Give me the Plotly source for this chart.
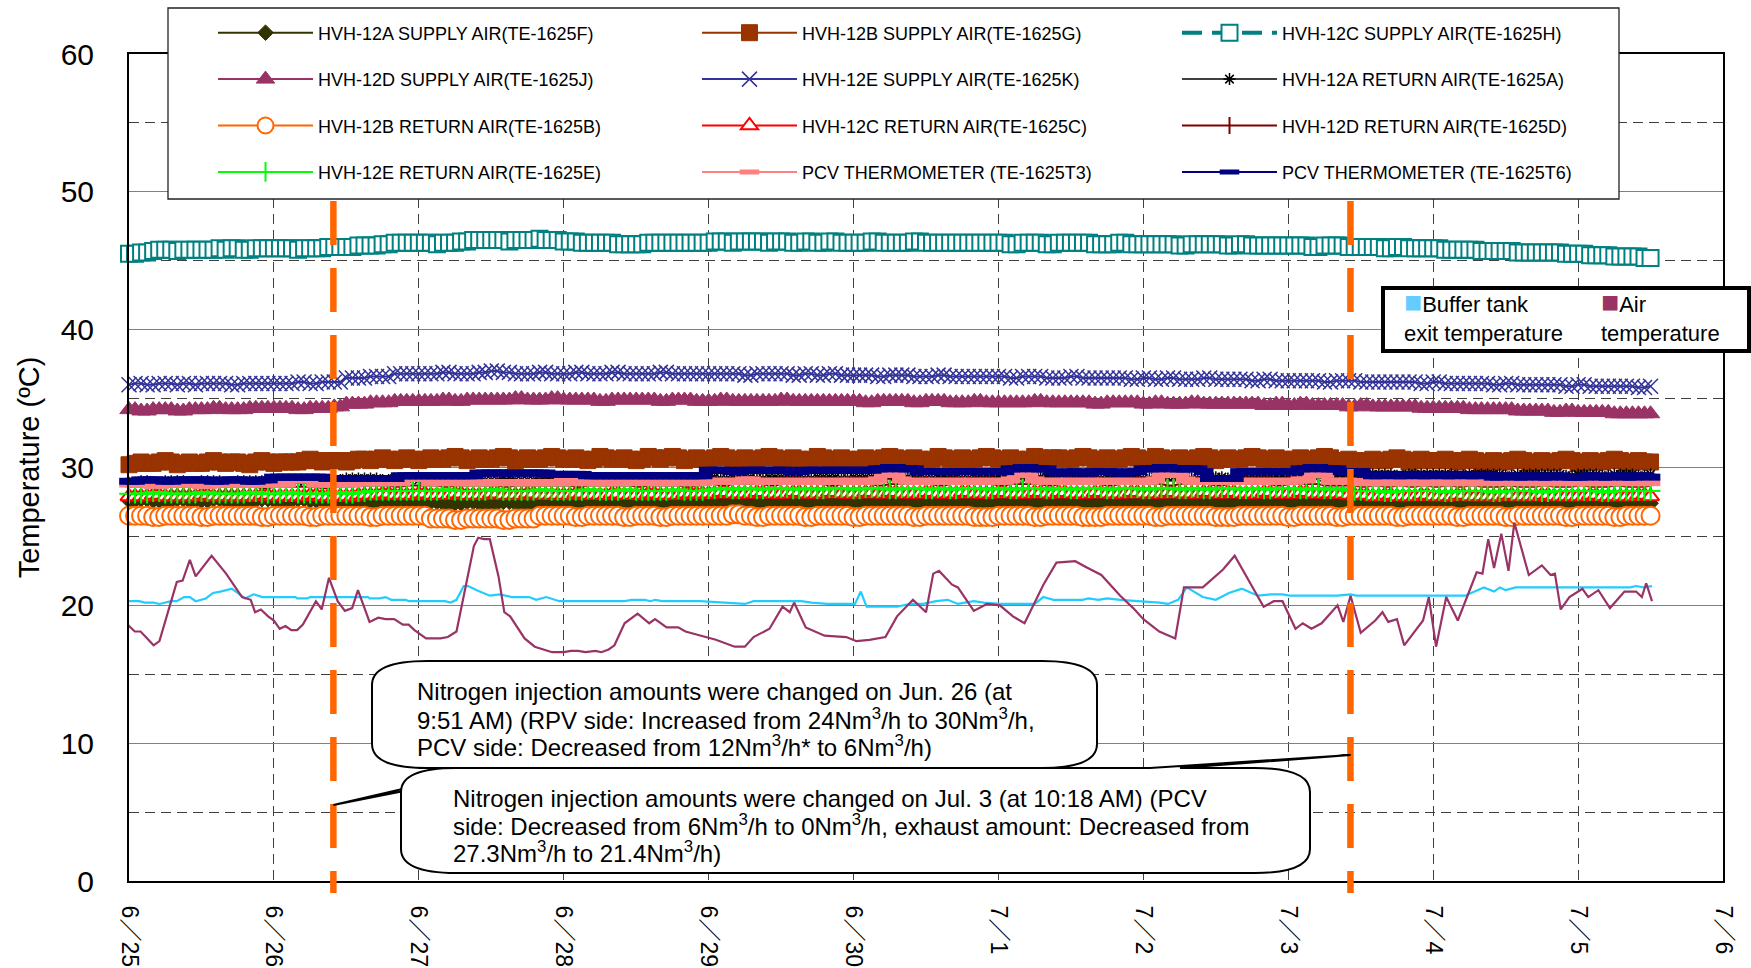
import plotly.graph_objects as go

# ---------------- data ----------------
tick_days = [0, 1, 2, 3, 4, 5, 6, 7, 8, 9, 10, 11]
tick_labels = ["6／25", "6／26", "6／27", "6／28", "6／29", "6／30",
               "7／1", "7／2", "7／3", "7／4", "7／5", "7／6"]

# hourly logging times, hours after 6/25 00:00
sample_hours = list(range(0, 253))

# one row per day (24 hourly readings), last row 7/5 00:00-12:00
s_12a_supply = [
    27.6, 27.6, 27.7, 27.7, 27.6, 27.6, 27.6, 27.6, 27.7, 27.7, 27.6, 27.6, 27.6, 27.6, 27.7, 27.7, 27.6, 27.6, 27.6, 27.6, 27.6, 27.6, 27.7, 27.7,
    27.6, 27.6, 27.6, 27.6, 27.7, 27.7, 27.6, 27.6, 27.6, 27.6, 27.6, 27.6, 27.6, 27.6, 27.5, 27.5, 27.4, 27.4, 27.4, 27.4, 27.5, 27.5, 27.4, 27.4,
    27.4, 27.4, 27.5, 27.5, 27.4, 27.4, 27.4, 27.4, 27.5, 27.5, 27.4, 27.4, 27.4, 27.4, 27.5, 27.5, 27.4, 27.4, 27.4, 27.4, 27.5, 27.5, 27.4, 27.4,
    27.5, 27.5, 27.4, 27.4, 27.4, 27.4, 27.5, 27.5, 27.4, 27.4, 27.4, 27.4, 27.5, 27.5, 27.4, 27.4, 27.4, 27.4, 27.5, 27.5, 27.4, 27.4, 27.4, 27.4,
    27.4, 27.4, 27.5, 27.5, 27.4, 27.4, 27.5, 27.5, 27.4, 27.4, 27.4, 27.4, 27.5, 27.5, 27.4, 27.4, 27.4, 27.4, 27.5, 27.5, 27.4, 27.4, 27.4, 27.4,
    27.5, 27.5, 27.4, 27.4, 27.4, 27.4, 27.5, 27.5, 27.4, 27.4, 27.5, 27.5, 27.4, 27.4, 27.4, 27.4, 27.5, 27.5, 27.4, 27.4, 27.4, 27.4, 27.5, 27.5,
    27.4, 27.4, 27.4, 27.4, 27.5, 27.5, 27.4, 27.4, 27.4, 27.4, 27.5, 27.5, 27.4, 27.4, 27.5, 27.5, 27.4, 27.4, 27.4, 27.4, 27.5, 27.5, 27.4, 27.4,
    27.5, 27.5, 27.4, 27.4, 27.4, 27.4, 27.5, 27.5, 27.4, 27.4, 27.4, 27.4, 27.5, 27.5, 27.4, 27.4, 27.4, 27.4, 27.5, 27.5, 27.4, 27.4, 27.5, 27.5,
    27.4, 27.4, 27.4, 27.4, 27.5, 27.5, 27.4, 27.4, 27.4, 27.4, 27.3, 27.3, 27.4, 27.4, 27.4, 27.4, 27.3, 27.3, 27.4, 27.4, 27.4, 27.4, 27.3, 27.3,
    27.4, 27.4, 27.3, 27.3, 27.4, 27.4, 27.4, 27.4, 27.3, 27.3, 27.4, 27.4, 27.3, 27.3, 27.4, 27.4, 27.4, 27.4, 27.3, 27.3, 27.4, 27.4, 27.3, 27.3,
    27.4, 27.4, 27.3, 27.3, 27.4, 27.4, 27.3, 27.3, 27.4, 27.4, 27.3, 27.3, 27.4]

s_12b_supply = [
    30.2, 30.3, 30.4, 30.3, 30.3, 30.4, 30.5, 30.4, 30.2, 30.3, 30.4, 30.3, 30.3, 30.4, 30.5, 30.4, 30.3, 30.4, 30.4, 30.3, 30.2, 30.4, 30.5, 30.4,
    30.3, 30.4, 30.4, 30.4, 30.4, 30.5, 30.6, 30.5, 30.4, 30.5, 30.5, 30.5, 30.4, 30.5, 30.6, 30.6, 30.5, 30.6, 30.7, 30.6, 30.5, 30.6, 30.7, 30.6,
    30.5, 30.6, 30.7, 30.6, 30.6, 30.7, 30.8, 30.7, 30.5, 30.6, 30.7, 30.6, 30.6, 30.7, 30.8, 30.7, 30.5, 30.6, 30.7, 30.6, 30.6, 30.7, 30.8, 30.7,
    30.6, 30.6, 30.7, 30.6, 30.5, 30.6, 30.8, 30.7, 30.6, 30.6, 30.7, 30.6, 30.5, 30.6, 30.8, 30.7, 30.6, 30.7, 30.8, 30.7, 30.5, 30.6, 30.7, 30.6,
    30.6, 30.7, 30.8, 30.7, 30.5, 30.6, 30.7, 30.6, 30.6, 30.7, 30.8, 30.7, 30.6, 30.6, 30.7, 30.6, 30.5, 30.6, 30.8, 30.7, 30.6, 30.6, 30.7, 30.6,
    30.5, 30.6, 30.7, 30.6, 30.6, 30.7, 30.8, 30.7, 30.6, 30.6, 30.7, 30.6, 30.5, 30.6, 30.8, 30.7, 30.6, 30.6, 30.7, 30.6, 30.6, 30.7, 30.8, 30.7,
    30.6, 30.6, 30.7, 30.6, 30.5, 30.6, 30.8, 30.7, 30.6, 30.7, 30.7, 30.6, 30.6, 30.7, 30.8, 30.7, 30.5, 30.6, 30.7, 30.6, 30.6, 30.7, 30.8, 30.7,
    30.5, 30.6, 30.8, 30.7, 30.6, 30.6, 30.7, 30.6, 30.6, 30.7, 30.8, 30.7, 30.5, 30.6, 30.7, 30.6, 30.6, 30.7, 30.8, 30.7, 30.6, 30.6, 30.7, 30.6,
    30.5, 30.6, 30.7, 30.6, 30.6, 30.7, 30.8, 30.7, 30.5, 30.5, 30.6, 30.5, 30.4, 30.5, 30.6, 30.5, 30.5, 30.6, 30.7, 30.6, 30.4, 30.5, 30.6, 30.5,
    30.5, 30.5, 30.6, 30.5, 30.4, 30.5, 30.6, 30.5, 30.3, 30.4, 30.5, 30.4, 30.4, 30.5, 30.6, 30.5, 30.3, 30.4, 30.5, 30.4, 30.4, 30.5, 30.6, 30.5,
    30.3, 30.4, 30.5, 30.4, 30.4, 30.5, 30.6, 30.5, 30.3, 30.4, 30.5, 30.4, 30.4]

s_12c_supply = [
    45.5, 45.5, 45.6, 45.6, 45.7, 45.8, 45.8, 45.8, 45.7, 45.8, 45.8, 45.8, 45.8, 45.8, 45.8, 45.9, 45.8, 45.9, 45.9, 45.8, 45.8, 45.9, 45.9, 45.9,
    45.9, 45.9, 45.9, 45.9, 45.8, 45.9, 45.9, 45.9, 45.9, 46.0, 46.0, 46.0, 46.0, 46.0, 46.1, 46.1, 46.1, 46.1, 46.2, 46.2, 46.3, 46.3, 46.3, 46.3,
    46.3, 46.3, 46.3, 46.2, 46.3, 46.3, 46.3, 46.4, 46.4, 46.5, 46.5, 46.5, 46.5, 46.5, 46.5, 46.4, 46.5, 46.5, 46.5, 46.5, 46.6, 46.5, 46.5, 46.5,
    46.4, 46.4, 46.4, 46.3, 46.3, 46.3, 46.3, 46.3, 46.3, 46.2, 46.2, 46.2, 46.2, 46.2, 46.3, 46.3, 46.3, 46.3, 46.3, 46.3, 46.3, 46.3, 46.3, 46.3,
    46.3, 46.4, 46.4, 46.4, 46.3, 46.4, 46.4, 46.4, 46.4, 46.4, 46.3, 46.4, 46.4, 46.4, 46.3, 46.3, 46.4, 46.4, 46.3, 46.3, 46.4, 46.4, 46.3, 46.3,
    46.3, 46.3, 46.3, 46.4, 46.4, 46.3, 46.3, 46.3, 46.3, 46.3, 46.4, 46.4, 46.3, 46.3, 46.3, 46.3, 46.3, 46.3, 46.3, 46.3, 46.3, 46.3, 46.3, 46.3,
    46.3, 46.3, 46.2, 46.2, 46.3, 46.3, 46.3, 46.3, 46.2, 46.2, 46.3, 46.3, 46.3, 46.3, 46.3, 46.3, 46.2, 46.2, 46.2, 46.2, 46.3, 46.3, 46.2, 46.2,
    46.2, 46.2, 46.2, 46.2, 46.2, 46.2, 46.1, 46.1, 46.2, 46.2, 46.2, 46.2, 46.2, 46.2, 46.1, 46.1, 46.2, 46.2, 46.1, 46.1, 46.1, 46.1, 46.1, 46.1,
    46.1, 46.1, 46.1, 46.1, 46.0, 46.0, 46.1, 46.1, 46.1, 46.1, 46.0, 46.0, 46.0, 46.0, 46.0, 46.0, 45.9, 45.9, 46.0, 46.0, 45.9, 45.9, 45.9, 45.9,
    45.9, 45.9, 45.8, 45.8, 45.8, 45.8, 45.8, 45.8, 45.7, 45.7, 45.7, 45.7, 45.7, 45.7, 45.6, 45.6, 45.6, 45.6, 45.6, 45.6, 45.6, 45.6, 45.5, 45.5,
    45.5, 45.5, 45.4, 45.4, 45.4, 45.4, 45.3, 45.3, 45.3, 45.3, 45.3, 45.2, 45.2]

s_12d_supply = [
    34.2, 34.2, 34.1, 34.1, 34.2, 34.2, 34.2, 34.2, 34.1, 34.1, 34.2, 34.2, 34.2, 34.2, 34.3, 34.3, 34.2, 34.2, 34.2, 34.2, 34.3, 34.3, 34.3, 34.3,
    34.3, 34.3, 34.3, 34.3, 34.2, 34.2, 34.3, 34.3, 34.3, 34.3, 34.4, 34.4, 34.6, 34.6, 34.6, 34.6, 34.7, 34.7, 34.7, 34.7, 34.8, 34.8, 34.8, 34.8,
    34.8, 34.8, 34.8, 34.8, 34.9, 34.9, 34.8, 34.8, 34.9, 34.9, 34.9, 34.9, 34.9, 34.9, 34.9, 34.9, 35.0, 35.0, 34.9, 34.9, 34.9, 34.9, 35.0, 35.0,
    34.9, 34.9, 34.9, 34.9, 34.9, 34.9, 34.8, 34.8, 34.9, 34.9, 34.9, 34.9, 34.9, 34.9, 34.9, 34.9, 34.8, 34.8, 34.9, 34.9, 34.9, 34.9, 34.8, 34.8,
    34.8, 34.8, 34.9, 34.9, 34.8, 34.8, 34.8, 34.8, 34.8, 34.8, 34.8, 34.8, 34.9, 34.9, 34.8, 34.8, 34.8, 34.8, 34.8, 34.8, 34.8, 34.8, 34.8, 34.8,
    34.8, 34.8, 34.7, 34.7, 34.8, 34.8, 34.8, 34.8, 34.8, 34.8, 34.7, 34.7, 34.8, 34.8, 34.8, 34.8, 34.7, 34.7, 34.7, 34.7, 34.8, 34.8, 34.7, 34.7,
    34.7, 34.7, 34.7, 34.7, 34.7, 34.7, 34.8, 34.8, 34.7, 34.7, 34.7, 34.7, 34.7, 34.7, 34.7, 34.7, 34.6, 34.6, 34.7, 34.7, 34.7, 34.7, 34.7, 34.7,
    34.6, 34.6, 34.7, 34.7, 34.6, 34.6, 34.6, 34.6, 34.7, 34.7, 34.6, 34.6, 34.6, 34.6, 34.6, 34.6, 34.6, 34.6, 34.6, 34.6, 34.5, 34.5, 34.6, 34.6,
    34.5, 34.5, 34.6, 34.6, 34.5, 34.5, 34.5, 34.5, 34.5, 34.5, 34.4, 34.4, 34.5, 34.5, 34.4, 34.4, 34.4, 34.4, 34.4, 34.4, 34.4, 34.4, 34.3, 34.3,
    34.3, 34.3, 34.3, 34.3, 34.3, 34.3, 34.2, 34.2, 34.2, 34.2, 34.2, 34.2, 34.2, 34.2, 34.1, 34.1, 34.1, 34.1, 34.1, 34.1, 34.0, 34.0, 34.1, 34.1,
    34.0, 34.0, 34.0, 34.0, 34.0, 34.0, 33.9, 33.9, 33.9, 33.9, 33.9, 33.9, 33.9]

s_12e_supply = [
    36.0, 36.1, 36.1, 36.0, 36.0, 36.1, 36.1, 36.1, 36.0, 36.1, 36.1, 36.0, 36.1, 36.1, 36.1, 36.1, 36.1, 36.0, 36.0, 36.1, 36.1, 36.1, 36.1, 36.1,
    36.1, 36.1, 36.1, 36.1, 36.2, 36.2, 36.1, 36.1, 36.2, 36.2, 36.2, 36.2, 36.5, 36.5, 36.5, 36.5, 36.6, 36.6, 36.6, 36.6, 36.8, 36.8, 36.8, 36.8,
    36.8, 36.8, 36.8, 36.8, 36.9, 36.9, 36.8, 36.8, 36.8, 36.8, 36.9, 36.9, 37.0, 37.0, 36.9, 36.9, 36.8, 36.8, 36.8, 36.8, 36.9, 36.9, 36.8, 36.8,
    36.8, 36.8, 36.9, 36.9, 36.8, 36.8, 36.8, 36.8, 36.9, 36.9, 36.8, 36.8, 36.8, 36.8, 36.8, 36.8, 36.9, 36.9, 36.8, 36.8, 36.8, 36.8, 36.8, 36.8,
    36.8, 36.8, 36.8, 36.8, 36.8, 36.8, 36.7, 36.7, 36.8, 36.8, 36.8, 36.8, 36.8, 36.8, 36.7, 36.7, 36.8, 36.8, 36.7, 36.7, 36.8, 36.8, 36.7, 36.7,
    36.7, 36.7, 36.7, 36.7, 36.6, 36.6, 36.7, 36.7, 36.7, 36.7, 36.6, 36.6, 36.6, 36.6, 36.7, 36.7, 36.6, 36.6, 36.6, 36.6, 36.6, 36.6, 36.6, 36.6,
    36.6, 36.6, 36.5, 36.5, 36.6, 36.6, 36.6, 36.6, 36.5, 36.5, 36.5, 36.5, 36.6, 36.6, 36.5, 36.5, 36.5, 36.5, 36.5, 36.5, 36.5, 36.5, 36.4, 36.4,
    36.5, 36.5, 36.4, 36.4, 36.5, 36.5, 36.4, 36.4, 36.4, 36.4, 36.5, 36.5, 36.4, 36.4, 36.4, 36.4, 36.4, 36.4, 36.3, 36.3, 36.4, 36.4, 36.3, 36.3,
    36.3, 36.3, 36.3, 36.3, 36.3, 36.3, 36.2, 36.2, 36.3, 36.3, 36.3, 36.3, 36.2, 36.2, 36.2, 36.2, 36.2, 36.2, 36.2, 36.2, 36.2, 36.2, 36.1, 36.1,
    36.2, 36.2, 36.1, 36.1, 36.1, 36.1, 36.1, 36.1, 36.1, 36.1, 36.0, 36.0, 36.1, 36.1, 36.0, 36.0, 36.0, 36.0, 36.0, 36.0, 36.0, 36.0, 35.9, 35.9,
    36.0, 36.0, 35.9, 35.9, 35.9, 35.9, 35.9, 35.9, 35.9, 35.9, 35.8, 35.8, 35.9]

s_12a_return = [
    28.9, 28.9, 29.0, 29.0, 28.9, 28.9, 29.0, 29.0, 29.0, 29.0, 28.9, 28.9, 29.0, 29.0, 29.0, 29.0, 28.9, 28.9, 29.0, 29.0, 29.0, 29.0, 29.0, 29.0,
    29.0, 29.0, 29.1, 29.1, 29.0, 29.0, 29.1, 29.1, 29.1, 29.1, 29.1, 29.1, 29.2, 29.2, 29.2, 29.2, 29.2, 29.2, 29.1, 29.1, 29.2, 29.2, 29.2, 29.2,
    29.1, 29.1, 29.2, 29.2, 29.1, 29.1, 29.1, 29.1, 29.2, 29.2, 29.1, 29.1, 29.1, 29.1, 29.2, 29.2, 29.1, 29.1, 29.1, 29.1, 29.2, 29.2, 29.1, 29.1,
    29.1, 29.1, 29.2, 29.2, 29.1, 29.1, 29.2, 29.2, 29.2, 29.2, 29.1, 29.1, 29.2, 29.2, 29.2, 29.2, 29.1, 29.1, 29.2, 29.2, 29.2, 29.2, 29.2, 29.2,
    29.3, 29.3, 29.2, 29.2, 29.3, 29.3, 29.3, 29.3, 29.2, 29.2, 29.3, 29.3, 29.3, 29.3, 29.3, 29.3, 29.2, 29.2, 29.3, 29.3, 29.3, 29.3, 29.2, 29.2,
    29.3, 29.3, 29.3, 29.3, 29.2, 29.2, 29.3, 29.3, 29.3, 29.3, 29.3, 29.3, 29.2, 29.2, 29.3, 29.3, 29.3, 29.3, 29.2, 29.2, 29.3, 29.3, 29.3, 29.3,
    29.3, 29.3, 29.2, 29.2, 29.3, 29.3, 29.3, 29.3, 29.3, 29.3, 29.2, 29.2, 29.3, 29.3, 29.3, 29.3, 29.2, 29.2, 29.3, 29.3, 29.3, 29.3, 29.3, 29.3,
    29.2, 29.2, 29.3, 29.3, 29.3, 29.3, 29.3, 29.3, 29.2, 29.2, 29.3, 29.3, 29.3, 29.3, 29.2, 29.2, 29.3, 29.3, 29.3, 29.3, 29.3, 29.3, 29.3, 29.3,
    29.3, 29.3, 29.3, 29.3, 29.4, 29.4, 29.3, 29.3, 29.4, 29.4, 29.4, 29.4, 29.5, 29.5, 29.5, 29.5, 29.5, 29.5, 29.4, 29.4, 29.5, 29.5, 29.5, 29.5,
    29.5, 29.5, 29.5, 29.5, 29.4, 29.4, 29.5, 29.5, 29.5, 29.5, 29.5, 29.5, 29.4, 29.4, 29.5, 29.5, 29.5, 29.5, 29.5, 29.5, 29.5, 29.5, 29.4, 29.4,
    29.5, 29.5, 29.5, 29.5, 29.4, 29.4, 29.5, 29.5, 29.5, 29.5, 29.4, 29.4, 29.5]

s_12b_return = [
    26.5, 26.5, 26.5, 26.5, 26.4, 26.4, 26.5, 26.5, 26.5, 26.5, 26.5, 26.5, 26.4, 26.4, 26.5, 26.5, 26.5, 26.5, 26.5, 26.5, 26.5, 26.5, 26.4, 26.4,
    26.5, 26.5, 26.5, 26.5, 26.5, 26.5, 26.4, 26.4, 26.5, 26.5, 26.5, 26.5, 26.5, 26.5, 26.5, 26.5, 26.4, 26.4, 26.5, 26.5, 26.5, 26.5, 26.5, 26.5,
    26.5, 26.5, 26.3, 26.3, 26.3, 26.3, 26.2, 26.2, 26.3, 26.3, 26.3, 26.3, 26.3, 26.3, 26.2, 26.2, 26.3, 26.3, 26.3, 26.3, 26.5, 26.5, 26.5, 26.5,
    26.5, 26.5, 26.4, 26.4, 26.5, 26.5, 26.5, 26.5, 26.5, 26.5, 26.4, 26.4, 26.5, 26.5, 26.5, 26.5, 26.4, 26.4, 26.5, 26.5, 26.5, 26.5, 26.5, 26.5,
    26.5, 26.5, 26.5, 26.5, 26.6, 26.6, 26.5, 26.5, 26.4, 26.4, 26.5, 26.5, 26.5, 26.5, 26.5, 26.5, 26.4, 26.4, 26.5, 26.5, 26.5, 26.5, 26.5, 26.5,
    26.4, 26.4, 26.5, 26.5, 26.5, 26.5, 26.5, 26.5, 26.5, 26.5, 26.4, 26.4, 26.5, 26.5, 26.5, 26.5, 26.5, 26.5, 26.5, 26.5, 26.4, 26.4, 26.4, 26.4,
    26.5, 26.5, 26.5, 26.5, 26.5, 26.5, 26.4, 26.4, 26.5, 26.5, 26.5, 26.5, 26.5, 26.5, 26.4, 26.4, 26.4, 26.4, 26.5, 26.5, 26.5, 26.5, 26.5, 26.5,
    26.5, 26.5, 26.4, 26.4, 26.5, 26.5, 26.5, 26.5, 26.5, 26.5, 26.5, 26.5, 26.4, 26.4, 26.4, 26.4, 26.5, 26.5, 26.5, 26.5, 26.5, 26.5, 26.5, 26.5,
    26.4, 26.4, 26.5, 26.5, 26.5, 26.5, 26.5, 26.5, 26.4, 26.4, 26.5, 26.5, 26.5, 26.5, 26.5, 26.5, 26.5, 26.5, 26.4, 26.4, 26.5, 26.5, 26.5, 26.5,
    26.5, 26.5, 26.5, 26.5, 26.4, 26.4, 26.5, 26.5, 26.5, 26.5, 26.5, 26.5, 26.4, 26.4, 26.5, 26.5, 26.5, 26.5, 26.5, 26.5, 26.5, 26.5, 26.4, 26.4,
    26.5, 26.5, 26.5, 26.5, 26.5, 26.5, 26.4, 26.4, 26.5, 26.5, 26.5, 26.5, 26.5]

s_12c_return = [
    27.9, 27.9, 27.9, 27.9, 28.0, 28.0, 27.9, 27.9, 27.9, 27.9, 27.9, 27.9, 28.0, 28.0, 27.9, 27.9, 27.9, 27.9, 27.9, 27.9, 27.9, 27.9, 28.0, 28.0,
    27.9, 27.9, 27.9, 27.9, 27.9, 27.9, 28.0, 28.0, 27.9, 27.9, 27.9, 27.9, 27.9, 27.9, 28.0, 28.0, 28.0, 28.0, 28.1, 28.1, 28.0, 28.0, 28.0, 28.0,
    28.1, 28.1, 28.0, 28.0, 28.0, 28.0, 28.1, 28.1, 28.0, 28.0, 28.0, 28.0, 28.1, 28.1, 28.0, 28.0, 28.0, 28.0, 28.1, 28.1, 28.0, 28.0, 28.0, 28.0,
    28.0, 28.0, 28.1, 28.1, 28.0, 28.0, 28.0, 28.0, 28.1, 28.1, 28.0, 28.0, 28.0, 28.0, 28.1, 28.1, 28.0, 28.0, 28.0, 28.0, 28.1, 28.1, 28.1, 28.1,
    28.1, 28.1, 28.2, 28.2, 28.1, 28.1, 28.1, 28.1, 28.2, 28.2, 28.1, 28.1, 28.1, 28.1, 28.2, 28.2, 28.1, 28.1, 28.1, 28.1, 28.2, 28.2, 28.1, 28.1,
    28.1, 28.1, 28.2, 28.2, 28.1, 28.1, 28.2, 28.2, 28.1, 28.1, 28.1, 28.1, 28.2, 28.2, 28.1, 28.1, 28.1, 28.1, 28.2, 28.2, 28.1, 28.1, 28.1, 28.1,
    28.2, 28.2, 28.1, 28.1, 28.1, 28.1, 28.2, 28.2, 28.1, 28.1, 28.2, 28.2, 28.1, 28.1, 28.1, 28.1, 28.2, 28.2, 28.1, 28.1, 28.1, 28.1, 28.2, 28.2,
    28.1, 28.1, 28.1, 28.1, 28.2, 28.2, 28.1, 28.1, 28.1, 28.1, 28.2, 28.2, 28.1, 28.1, 28.2, 28.2, 28.1, 28.1, 28.1, 28.1, 28.2, 28.2, 28.1, 28.1,
    28.1, 28.1, 28.2, 28.2, 28.1, 28.1, 28.1, 28.1, 28.1, 28.1, 28.0, 28.0, 28.0, 28.0, 27.9, 27.9, 28.0, 28.0, 27.9, 27.9, 27.9, 27.9, 28.0, 28.0,
    27.9, 27.9, 27.9, 27.9, 28.0, 28.0, 27.9, 27.9, 27.9, 27.9, 27.9, 27.9, 28.0, 28.0, 27.9, 27.9, 27.9, 27.9, 28.0, 28.0, 27.9, 27.9, 27.9, 27.9,
    27.9, 27.9, 28.0, 28.0, 27.9, 27.9, 27.9, 27.9, 27.9, 27.9, 28.0, 28.0, 27.9]

s_12d_return = [
    28.6, 28.6, 28.6, 28.6, 28.5, 28.5, 28.6, 28.6, 28.6, 28.6, 28.6, 28.6, 28.5, 28.5, 28.6, 28.6, 28.6, 28.6, 28.6, 28.6, 28.6, 28.6, 28.5, 28.5,
    28.6, 28.6, 28.6, 28.6, 28.6, 28.6, 28.6, 28.6, 28.5, 28.5, 28.6, 28.6, 28.6, 28.6, 28.7, 28.7, 28.7, 28.7, 28.7, 28.7, 28.6, 28.6, 28.7, 28.7,
    28.7, 28.7, 28.7, 28.7, 28.6, 28.6, 28.7, 28.7, 28.7, 28.7, 28.7, 28.7, 28.7, 28.7, 28.6, 28.6, 28.7, 28.7, 28.7, 28.7, 28.7, 28.7, 28.7, 28.7,
    28.7, 28.7, 28.6, 28.6, 28.7, 28.7, 28.7, 28.7, 28.7, 28.7, 28.7, 28.7, 28.6, 28.6, 28.7, 28.7, 28.7, 28.7, 28.7, 28.7, 28.6, 28.6, 28.7, 28.7,
    28.8, 28.8, 28.7, 28.7, 28.8, 28.8, 28.8, 28.8, 28.8, 28.8, 28.7, 28.7, 28.8, 28.8, 28.8, 28.8, 28.8, 28.8, 28.8, 28.8, 28.7, 28.7, 28.8, 28.8,
    28.8, 28.8, 28.8, 28.8, 28.7, 28.7, 28.8, 28.8, 28.8, 28.8, 28.8, 28.8, 28.8, 28.8, 28.7, 28.7, 28.8, 28.8, 28.8, 28.8, 28.8, 28.8, 28.8, 28.8,
    28.7, 28.7, 28.8, 28.8, 28.8, 28.8, 28.8, 28.8, 28.7, 28.7, 28.8, 28.8, 28.8, 28.8, 28.8, 28.8, 28.8, 28.8, 28.7, 28.7, 28.8, 28.8, 28.8, 28.8,
    28.8, 28.8, 28.8, 28.8, 28.7, 28.7, 28.8, 28.8, 28.8, 28.8, 28.8, 28.8, 28.7, 28.7, 28.8, 28.8, 28.8, 28.8, 28.8, 28.8, 28.8, 28.8, 28.7, 28.7,
    28.8, 28.8, 28.8, 28.8, 28.8, 28.8, 28.7, 28.7, 28.7, 28.7, 28.7, 28.7, 28.6, 28.6, 28.7, 28.7, 28.6, 28.6, 28.7, 28.7, 28.6, 28.6, 28.7, 28.7,
    28.6, 28.6, 28.7, 28.7, 28.6, 28.6, 28.7, 28.7, 28.6, 28.6, 28.6, 28.6, 28.7, 28.7, 28.6, 28.6, 28.6, 28.6, 28.7, 28.7, 28.6, 28.6, 28.6, 28.6,
    28.7, 28.7, 28.6, 28.6, 28.6, 28.6, 28.7, 28.7, 28.6, 28.6, 28.6, 28.6, 28.7]

s_12e_return = [
    28.1, 28.1, 28.1, 28.1, 28.2, 28.2, 28.1, 28.1, 28.1, 28.1, 28.1, 28.1, 28.2, 28.2, 28.1, 28.1, 28.1, 28.1, 28.1, 28.1, 28.2, 28.2, 28.1, 28.1,
    28.1, 28.1, 28.2, 28.2, 28.1, 28.1, 28.1, 28.1, 28.1, 28.1, 28.2, 28.2, 28.1, 28.1, 28.2, 28.2, 28.3, 28.3, 28.3, 28.3, 28.3, 28.3, 28.3, 28.3,
    28.3, 28.3, 28.3, 28.3, 28.4, 28.4, 28.3, 28.3, 28.3, 28.3, 28.3, 28.3, 28.4, 28.4, 28.3, 28.3, 28.3, 28.3, 28.3, 28.3, 28.4, 28.4, 28.3, 28.3,
    28.3, 28.3, 28.3, 28.3, 28.4, 28.4, 28.3, 28.3, 28.3, 28.3, 28.4, 28.4, 28.3, 28.3, 28.3, 28.3, 28.3, 28.3, 28.4, 28.4, 28.3, 28.3, 28.3, 28.3,
    28.4, 28.4, 28.5, 28.5, 28.4, 28.4, 28.5, 28.5, 28.4, 28.4, 28.5, 28.5, 28.5, 28.5, 28.4, 28.4, 28.5, 28.5, 28.4, 28.4, 28.5, 28.5, 28.5, 28.5,
    28.4, 28.4, 28.5, 28.5, 28.5, 28.5, 28.4, 28.4, 28.5, 28.5, 28.5, 28.5, 28.4, 28.4, 28.5, 28.5, 28.4, 28.4, 28.5, 28.5, 28.5, 28.5, 28.4, 28.4,
    28.5, 28.5, 28.4, 28.4, 28.5, 28.5, 28.5, 28.5, 28.4, 28.4, 28.5, 28.5, 28.4, 28.4, 28.5, 28.5, 28.5, 28.5, 28.4, 28.4, 28.5, 28.5, 28.5, 28.5,
    28.4, 28.4, 28.5, 28.5, 28.5, 28.5, 28.4, 28.4, 28.5, 28.5, 28.4, 28.4, 28.5, 28.5, 28.5, 28.5, 28.4, 28.4, 28.5, 28.5, 28.4, 28.4, 28.5, 28.5,
    28.5, 28.5, 28.4, 28.4, 28.5, 28.5, 28.4, 28.4, 28.5, 28.5, 28.3, 28.3, 28.3, 28.3, 28.3, 28.3, 28.2, 28.2, 28.3, 28.3, 28.3, 28.3, 28.3, 28.3,
    28.3, 28.3, 28.2, 28.2, 28.3, 28.3, 28.3, 28.3, 28.3, 28.3, 28.2, 28.2, 28.3, 28.3, 28.3, 28.3, 28.3, 28.3, 28.2, 28.2, 28.3, 28.3, 28.3, 28.3,
    28.3, 28.3, 28.3, 28.3, 28.2, 28.2, 28.3, 28.3, 28.3, 28.3, 28.3, 28.3, 28.3]

s_pcv_t3 = [
    28.8, 28.8, 28.8, 28.8, 28.7, 28.7, 28.8, 28.8, 28.8, 28.8, 28.8, 28.8, 28.7, 28.7, 28.8, 28.8, 28.8, 28.8, 28.8, 28.8, 28.8, 28.8, 28.8, 28.8,
    28.8, 28.8, 28.8, 29.1, 29.1, 29.1, 29.1, 28.8, 28.8, 28.8, 28.8, 28.8, 28.8, 28.8, 28.9, 28.9, 28.9, 28.9, 28.9, 28.9, 28.9, 28.9, 29.2, 29.2,
    29.2, 29.2, 28.9, 28.9, 28.9, 28.9, 28.9, 28.9, 28.9, 28.9, 28.9, 28.9, 28.9, 28.9, 28.9, 28.9, 28.9, 28.9, 28.9, 28.9, 28.9, 28.9, 28.9, 28.9,
    29.2, 29.2, 28.9, 28.9, 28.9, 28.9, 28.9, 28.9, 28.9, 28.9, 28.9, 28.9, 29.0, 29.0, 28.9, 28.9, 28.9, 28.9, 28.9, 28.9, 28.9, 28.9, 28.9, 28.9,
    29.0, 29.0, 29.0, 29.0, 29.0, 29.0, 29.1, 29.1, 29.0, 29.0, 29.0, 29.0, 29.0, 29.0, 29.0, 29.0, 29.0, 29.0, 29.0, 29.0, 29.0, 29.0, 29.0, 29.0,
    29.0, 29.0, 29.0, 29.0, 29.1, 29.5, 29.5, 29.5, 29.1, 29.0, 29.0, 29.0, 29.0, 29.0, 29.0, 29.0, 29.0, 29.0, 29.0, 29.0, 29.0, 29.0, 29.0, 29.0,
    29.0, 29.0, 29.1, 29.5, 29.5, 29.5, 29.1, 29.0, 29.0, 29.0, 29.0, 29.0, 29.0, 29.0, 29.0, 29.0, 29.0, 29.0, 29.0, 29.0, 29.0, 29.0, 29.0, 29.0,
    29.0, 29.0, 29.1, 29.5, 29.5, 29.5, 29.5, 29.1, 29.0, 29.0, 29.0, 29.0, 29.0, 29.0, 29.0, 29.0, 29.0, 29.0, 29.0, 29.0, 29.0, 29.0, 29.0, 29.0,
    29.0, 29.0, 29.1, 29.1, 29.5, 29.5, 29.5, 29.0, 29.0, 29.0, 29.0, 29.0, 28.9, 28.9, 28.9, 28.9, 28.9, 28.9, 28.9, 28.9, 28.9, 28.9, 28.9, 28.9,
    28.9, 28.9, 28.9, 28.9, 28.9, 28.9, 28.9, 28.9, 28.9, 28.9, 28.9, 28.9, 29.0, 29.0, 28.9, 28.9, 28.9, 28.9, 28.9, 28.9, 28.9, 28.9, 28.9, 28.9,
    28.9, 28.9, 28.9, 28.9, 28.9, 28.9, 29.0, 29.0, 28.9, 28.9, 28.9, 28.9, 28.9]

s_pcv_t6 = [
    29.0, 29.0, 29.1, 29.1, 29.1, 29.1, 29.0, 29.0, 29.1, 29.1, 29.1, 29.1, 29.1, 29.1, 29.0, 29.0, 29.1, 29.1, 29.1, 29.1, 29.0, 29.0, 29.1, 29.1,
    29.3, 29.3, 29.3, 29.3, 29.3, 29.3, 29.3, 29.3, 29.3, 29.2, 29.2, 29.2, 29.2, 29.2, 29.2, 29.2, 29.2, 29.2, 29.2, 29.2, 29.2, 29.4, 29.4, 29.4,
    29.4, 29.4, 29.4, 29.4, 29.4, 29.4, 29.4, 29.4, 29.4, 29.4, 29.6, 29.6, 29.6, 29.6, 29.6, 29.6, 29.6, 29.6, 29.6, 29.6, 29.6, 29.6, 29.5, 29.5,
    29.5, 29.5, 29.5, 29.5, 29.4, 29.4, 29.4, 29.4, 29.4, 29.4, 29.4, 29.4, 29.4, 29.4, 29.4, 29.4, 29.4, 29.4, 29.4, 29.4, 29.4, 29.4, 29.4, 29.4,
    29.8, 29.8, 29.8, 29.8, 29.7, 29.7, 29.8, 29.8, 29.8, 29.8, 29.8, 29.8, 29.8, 29.8, 29.7, 29.7, 29.8, 29.8, 29.8, 29.8, 29.8, 29.8, 29.8, 29.8,
    29.8, 29.8, 29.8, 29.8, 29.9, 29.9, 30.0, 30.0, 29.9, 29.9, 29.9, 29.7, 29.7, 29.7, 29.7, 29.7, 29.7, 29.7, 29.7, 29.7, 29.7, 29.7, 29.7, 29.7,
    29.7, 29.7, 29.9, 29.9, 30.0, 30.0, 29.9, 29.9, 29.9, 29.7, 29.6, 29.6, 29.7, 29.7, 29.6, 29.6, 29.7, 29.7, 29.7, 29.7, 29.6, 29.6, 29.7, 29.7,
    29.9, 29.9, 29.9, 30.0, 30.0, 29.9, 29.9, 29.9, 29.9, 29.9, 29.7, 29.2, 29.2, 29.2, 29.2, 29.2, 29.7, 29.7, 29.7, 29.7, 29.7, 29.7, 29.7, 29.7,
    29.7, 29.7, 29.9, 29.9, 30.0, 30.0, 29.9, 29.9, 29.9, 29.7, 29.7, 29.7, 29.7, 29.5, 29.4, 29.4, 29.5, 29.5, 29.4, 29.4, 29.5, 29.5, 29.4, 29.4,
    29.5, 29.5, 29.4, 29.4, 29.5, 29.5, 29.4, 29.4, 29.5, 29.5, 29.3, 29.3, 29.4, 29.4, 29.3, 29.3, 29.4, 29.4, 29.3, 29.3, 29.4, 29.4, 29.3, 29.3,
    29.3, 29.3, 29.4, 29.4, 29.3, 29.3, 29.4, 29.4, 29.3, 29.3, 29.4, 29.4, 29.3]

# line series (days after 6/25 00:00, degC)
air_days = [-0.08, 0.04, 0.08, 0.17, 0.21, 0.33, 0.37, 0.42, 0.46, 0.57, 0.67, 0.78, 0.84, 0.87,
            0.91, 0.96, 1.0, 1.04, 1.08, 1.12, 1.16, 1.2, 1.29, 1.33, 1.38, 1.44, 1.49, 1.54, 1.58,
            1.66, 1.72, 1.77, 1.83, 1.89, 1.93, 1.97, 2.05, 2.15, 2.2, 2.26, 2.38, 2.41, 2.45, 2.49,
            2.55, 2.59, 2.63, 2.73, 2.8, 2.92, 3.0, 3.05, 3.1, 3.15, 3.22, 3.26, 3.31, 3.35, 3.42,
            3.51, 3.59, 3.63, 3.71, 3.79, 3.84, 3.94, 4.05, 4.18, 4.25, 4.31, 4.42, 4.51, 4.56, 4.59,
            4.67, 4.8, 4.95, 5.02, 5.11, 5.22, 5.3, 5.41, 5.5, 5.55, 5.59, 5.68, 5.72, 5.83, 5.92,
            6.01, 6.1, 6.18, 6.31, 6.4, 6.53, 6.6, 6.71, 6.84, 6.93, 7.0, 7.11, 7.22, 7.28, 7.41,
            7.5, 7.55, 7.63, 7.74, 7.83, 7.9, 7.96, 8.05, 8.1, 8.16, 8.23, 8.29, 8.34, 8.38, 8.43,
            8.5, 8.6, 8.65, 8.69, 8.75, 8.8, 8.93, 8.97, 9.02, 9.09, 9.17, 9.3, 9.34, 9.38, 9.42,
            9.47, 9.52, 9.56, 9.66, 9.75, 9.81, 9.84, 9.88, 9.94, 10.03, 10.07, 10.14, 10.22, 10.32,
            10.4, 10.44, 10.47, 10.51]
air_temp = [19.3, 18.1, 18.1, 17.1, 17.4, 21.7, 21.8, 23.3, 22.1, 23.6, 22.3, 20.6, 20.4, 19.5,
            19.7, 19.2, 18.9, 18.3, 18.5, 18.2, 18.2, 18.6, 20.3, 19.7, 22.0, 20.3, 19.6, 19.8, 21.1,
            18.8, 19.1, 19.0, 19.0, 18.6, 18.6, 18.2, 17.6, 17.6, 17.7, 18.1, 24.3, 24.9, 24.8, 24.8,
            22.1, 19.5, 19.2, 17.6, 17.0, 16.6, 16.6, 16.7, 16.7, 16.6, 16.7, 16.6, 16.8, 17.1, 18.7,
            19.4, 18.7, 19.0, 18.4, 18.4, 18.1, 17.8, 17.5, 17.0, 17.0, 17.7, 18.3, 19.9, 19.5, 20.2,
            18.4, 17.8, 17.7, 17.4, 17.5, 17.7, 19.2, 20.4, 19.5, 22.3, 22.5, 21.5, 21.3, 19.6, 20.1,
            20.0, 19.2, 18.7, 21.5, 23.1, 23.2, 22.8, 22.2, 20.7, 19.8, 19.0, 18.1, 17.6, 21.3, 21.3,
            22.1, 22.6, 23.6, 21.6, 19.9, 20.3, 20.3, 18.3, 18.7, 18.3, 18.7, 19.4, 20.0, 18.8, 20.7,
            18.0, 18.9, 19.5, 18.8, 19.0, 17.1, 18.9, 20.6, 17.0, 20.6, 18.9, 22.4, 22.3, 24.8, 22.7,
            25.2, 22.5, 26.0, 22.2, 22.9, 22.2, 22.3, 19.7, 20.6, 21.2, 20.6, 21.1, 19.8, 21.0,
            21.0, 20.6, 21.6, 20.3]

buffer_days = [-0.08, 0.07, 0.11, 0.17, 0.21, 0.29, 0.33, 0.38, 0.42, 0.46, 0.53, 0.58, 0.63, 0.71,
               0.75, 0.8, 0.86, 0.92, 1.15, 1.16, 1.23, 1.25, 1.65, 1.66, 1.73, 1.77, 1.81, 1.91, 1.93,
               2.18, 2.22, 2.26, 2.31, 2.34, 2.4, 2.49, 2.56, 2.64, 2.76, 2.81, 2.88, 2.97, 3.42, 3.47,
               3.56, 3.6, 3.63, 3.68, 3.94, 4.12, 4.25, 4.31, 4.42, 4.64, 4.71, 4.82, 5.01, 5.05, 5.09,
               5.3, 5.39, 5.48, 5.57, 5.65, 5.72, 5.83, 5.9, 6.01, 6.1, 6.25, 6.31, 6.38, 6.58, 6.62,
               6.69, 6.75, 6.84, 7.02, 7.11, 7.17, 7.24, 7.3, 7.41, 7.5, 7.59, 7.68, 7.79, 7.88, 7.96,
               8.01, 8.34, 8.43, 8.47, 9.22, 9.28, 9.35, 9.42, 9.46, 9.5, 9.57, 10.36, 10.4, 10.45,
               10.49, 10.51]
buffer_temp = [20.3, 20.3, 20.2, 20.2, 20.1, 20.3, 20.3, 20.6, 20.6, 20.3, 20.5, 20.9, 21.0, 21.2,
               20.9, 20.5, 20.8, 20.6, 20.6, 20.5, 20.5, 20.6, 20.6, 20.5, 20.5, 20.6, 20.4, 20.4, 20.3,
               20.3, 20.2, 20.4, 21.4, 21.4, 21.1, 20.7, 20.8, 20.6, 20.6, 20.4, 20.6, 20.3, 20.3, 20.4,
               20.4, 20.3, 20.4, 20.3, 20.3, 20.2, 20.1, 20.3, 20.3, 20.3, 20.2, 20.1, 20.1, 21.0, 19.9,
               19.9, 20.1, 20.1, 20.3, 20.4, 20.1, 20.3, 20.2, 20.1, 20.1, 20.1, 20.6, 20.4, 20.4, 20.5,
               20.4, 20.5, 20.4, 20.3, 20.2, 20.1, 20.4, 21.3, 20.6, 20.4, 20.9, 21.2, 20.7, 20.8, 20.8,
               20.7, 20.7, 20.8, 20.7, 20.7, 21.0, 21.3, 21.0, 21.3, 21.1, 21.3, 21.3, 21.4, 21.3,
               21.4, 21.4]

# nitrogen injection change times (hours after 6/25 00:00): 6/26 9:51, 7/3 10:18
change_hours = [24 + 9 + 51 / 60, 8 * 24 + 10 + 18 / 60]

# ---------------- geometry helpers ----------------
W, H = 1751, 968
PL, PT, PW, PH = 129, 54, 1594, 827
X_RANGE = [0, 11]
Y_RANGE = [0, 60]


def px(x):
    return (x - PL) / PW


def py(y):
    return (PT + PH - y) / PH


def day_to_px(d):
    return PL + PW * (d - X_RANGE[0]) / (X_RANGE[1] - X_RANGE[0])


fig = go.Figure()

specs = [
    ("HVH-12A SUPPLY AIR(TE-1625F)", s_12a_supply, "#333300", "diamond", 12, "fill", 1, "solid", 2, "legend"),
    ("HVH-12B SUPPLY AIR(TE-1625G)", s_12b_supply, "#993300", "square", 16, "fill", 1, "solid", 2, "legend2"),
    ("HVH-12C SUPPLY AIR(TE-1625H)", s_12c_supply, "#008080", "square", 16, "white", 2, "20px,10px", 4, "legend3"),
    ("HVH-12D SUPPLY AIR(TE-1625J)", s_12d_supply, "#993366", "triangle-up", 16, "fill", 1, "solid", 2, "legend"),
    ("HVH-12E SUPPLY AIR(TE-1625K)", s_12e_supply, "#333399", "x-thin", 15, "fill", 1.5, "solid", 2, "legend2"),
    ("HVH-12A RETURN AIR(TE-1625A)", s_12a_return, "#000000", "asterisk", 10, "fill", 1.5, "solid", 1.5, "legend3"),
    ("HVH-12B RETURN AIR(TE-1625B)", s_12b_return, "#FF6600", "circle", 18, "white", 2, "solid", 2, "legend"),
    ("HVH-12C RETURN AIR(TE-1625C)", s_12c_return, "#FF0000", "triangle-up", 15, "white", 2, "solid", 2, "legend2"),
    ("HVH-12D RETURN AIR(TE-1625D)", s_12d_return, "#800000", "line-ns", 12, "fill", 2, "solid", 2, "legend3"),
    ("HVH-12E RETURN AIR(TE-1625E)", s_12e_return, "#00FF00", "cross-thin", 14, "fill", 2, "solid", 2, "legend"),
    ("PCV THERMOMETER (TE-1625T3)", s_pcv_t3, "#FF8080", "line-ew", 14, "fill", 7, "solid", 2, "legend2"),
    ("PCV THERMOMETER (TE-1625T6)", s_pcv_t6, "#000080", "line-ew", 14, "fill", 7, "solid", 2, "legend3"),
]

for name, vals, col, sym, size, fill, mlw, dash, lw, lg in specs:
    xs = [h / 24 for h in sample_hours[:len(vals)]]
    fig.add_trace(go.Scatter(
        x=xs, y=vals, mode="lines+markers", name=name, legend=lg, legendgroup=name,
        line=dict(color=col, width=lw, dash=dash),
        marker=dict(symbol=sym, size=size, color=(col if fill == "fill" else fill),
                    line=dict(color=col, width=mlw)),
        cliponaxis=False, hoverinfo="skip"))

fig.add_trace(go.Scatter(x=buffer_days, y=buffer_temp, mode="lines", name="Buffer tank exit temperature",
                         line=dict(color="#22CCFF", width=2.2), showlegend=False))
fig.add_trace(go.Scatter(x=air_days, y=air_temp, mode="lines", name="Air temperature",
                         line=dict(color="#993366", width=2.2), showlegend=False))

# ---------------- shapes ----------------
shapes = []
for h in change_hours:
    xp = px(day_to_px(h / 24))
    shapes.append(dict(type="line", xref="paper", yref="paper", x0=xp, x1=xp,
                       y0=py(201), y1=py(893), line=dict(color="#FF6600", width=6.5, dash="44px,23px"),
                       layer="above"))


def P(x, y):
    return f"{px(x):.5f},{py(y):.5f}"


def bubble(l, t, r, b, rx, ry, side, base0, base1, tip):
    s = f"M{P(l + rx, t)} "
    if side == "top":
        s += f"L{P(base0, t)} L{P(*tip)} L{P(base1, t)} "
    s += f"L{P(r - rx, t)} Q{P(r, t)} {P(r, t + ry)} L{P(r, b - ry)} Q{P(r, b)} {P(r - rx, b)} "
    if side == "bottom":
        s += f"L{P(base1, b)} L{P(*tip)} L{P(base0, b)} "
    s += f"L{P(l + rx, b)} Q{P(l, b)} {P(l, b - ry)} L{P(l, t + ry)} Q{P(l, t)} {P(l + rx, t)} Z"
    return s


tip1 = (day_to_px(change_hours[0] / 24), 805)
tip2 = (day_to_px(change_hours[1] / 24), 755)
shapes.append(dict(type="path", xref="paper", yref="paper", layer="above",
                   path=bubble(372, 661, 1097, 768, 55, 24, "bottom", 493, 520, tip1),
                   fillcolor="white", line=dict(color="black", width=2)))
shapes.append(dict(type="path", xref="paper", yref="paper", layer="above",
                   path=bubble(401, 768, 1310, 873, 55, 24, "top", 1150, 1180, tip2),
                   fillcolor="white", line=dict(color="black", width=2)))
# legend frame
shapes.append(dict(type="rect", xref="paper", yref="paper", layer="above",
                   x0=px(168), x1=px(1619), y0=py(199), y1=py(8),
                   fillcolor="white", line=dict(color="#222222", width=1.3)))
# small legend frame
shapes.append(dict(type="rect", xref="paper", yref="paper", layer="above",
                   x0=px(1383), x1=px(1749), y0=py(351), y1=py(288),
                   fillcolor="white", line=dict(color="black", width=4)))

# ---------------- annotations ----------------
b1_lines = ["Nitrogen injection amounts were changed on Jun. 26 (at",
            "9:51 AM) (RPV side: Increased from 24Nm<sup>3</sup>/h to 30Nm<sup>3</sup>/h,",
            "PCV side: Decreased from 12Nm<sup>3</sup>/h* to 6Nm<sup>3</sup>/h)"]
b2_lines = ["Nitrogen injection amounts were changed on Jul. 3 (at 10:18 AM) (PCV",
            "side: Decreased from 6Nm<sup>3</sup>/h to 0Nm<sup>3</sup>/h, exhaust amount: Decreased from",
            "27.3Nm<sup>3</sup>/h to 21.4Nm<sup>3</sup>/h)"]
annotations = []
for lines, x0, ys in ((b1_lines, 417, [691, 719, 746]), (b2_lines, 453, [798, 825, 852])):
    for txt, yy in zip(lines, ys):
        annotations.append(dict(xref="paper", yref="paper", x=px(x0), y=py(yy), text=txt,
                                xanchor="left", yanchor="middle", showarrow=False,
                                borderpad=0, borderwidth=0,
                                font=dict(size=24, color="black")))

annotations.append(dict(xref="paper", yref="paper", x=px(1402), y=py(283), xanchor="left", yanchor="top",
                        align="left", showarrow=False, font=dict(size=22, color="black"),
                        text="<span style='color:#66CCFF;font-size:30px'>■</span>Buffer tank<br>exit temperature"))
annotations.append(dict(xref="paper", yref="paper", x=px(1599), y=py(283), xanchor="left", yanchor="top",
                        align="left", showarrow=False, font=dict(size=22, color="black"),
                        text="<span style='color:#993366;font-size:30px'>■</span>Air<br>temperature"))

leg_common = dict(bgcolor="rgba(0,0,0,0)", borderwidth=0, font=dict(size=18, color="black"),
                  itemwidth=95, tracegroupgap=20, xanchor="left", yanchor="top",
                  orientation="v", xref="paper", yref="paper")

fig.update_layout(
    width=W, height=H,
    margin=dict(l=PL, r=W - PL - PW, t=PT, b=H - PT - PH, autoexpand=False),
    paper_bgcolor="white", plot_bgcolor="white",
    font=dict(family="Liberation Sans, Arial, sans-serif", color="black"),
    showlegend=True,
    xaxis=dict(range=X_RANGE, tickvals=tick_days, ticktext=tick_labels, tickangle=90,
               tickfont=dict(size=23, family="Liberation Sans, Noto Sans CJK JP"),
               showgrid=True, gridcolor="#404040", griddash="10px,6px", gridwidth=1,
               showline=True, linecolor="black", linewidth=2, mirror=True, automargin=False,
               zeroline=False, ticks="", ticklabelstandoff=18),
    yaxis=dict(range=Y_RANGE, tick0=0, dtick=10, showgrid=True, gridcolor="#808080", gridwidth=1.3,
               minor=dict(tick0=0, dtick=5, showgrid=True, gridcolor="#404040",
                          griddash="10px,6px", gridwidth=1),
               showline=True, linecolor="black", linewidth=2, mirror=True, zeroline=False,
               automargin=False, ticks="", tickfont=dict(size=30), ticklabelstandoff=27,
               title=dict(text="Temperature (ºC)", font=dict(size=29), standoff=12)),
    legend=dict(x=px(213), y=py(14.5), **leg_common),
    legend2=dict(x=px(697), y=py(14.5), **leg_common),
    legend3=dict(x=px(1177), y=py(14.5), **leg_common),
    shapes=shapes,
    annotations=annotations,
)

fig.write_html("out.html", config={"displayModeBar": False},
               post_script="document.body.style.margin='0px';document.body.style.overflow='hidden';")
